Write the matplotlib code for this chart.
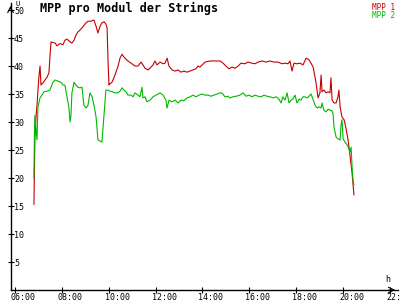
import matplotlib
matplotlib.use("Agg")
import matplotlib.pyplot as plt
import matplotlib.transforms as mtransforms

# ------------------------------
# DATA (hours of day, volts per module)
# ------------------------------
t_mpp1 = [6.81, 6.85, 6.90, 6.94, 6.98, 7.02, 7.07, 7.11, 7.20, 7.28, 7.37, 7.45, 7.49, 7.54,
          7.62, 7.71, 7.79, 7.92, 8.05, 8.13, 8.22, 8.35, 8.43, 8.52, 8.60, 8.69, 8.77, 8.90,
          9.03, 9.12, 9.24, 9.37, 9.46, 9.54, 9.63, 9.71, 9.80, 9.88, 9.93, 9.97, 10.01, 10.05,
          10.14, 10.22, 10.31, 10.40, 10.48, 10.57, 10.65, 10.74, 10.82, 10.95, 11.04, 11.12,
          11.25, 11.38, 11.46, 11.55, 11.68, 11.76, 11.89, 11.97, 12.06, 12.19, 12.32, 12.40,
          12.49, 12.57, 12.70, 12.83, 12.96, 13.08, 13.21, 13.34, 13.47, 13.60, 13.72, 13.81,
          13.89, 14.11, 14.32, 14.53, 14.75, 14.88, 15.00, 15.13, 15.26, 15.39, 15.52, 15.64,
          15.81, 15.94, 16.11, 16.24, 16.37, 16.54, 16.71, 16.88, 17.05, 17.22, 17.39, 17.52,
          17.65, 17.73, 17.82, 17.90, 18.03, 18.16, 18.29, 18.42, 18.54, 18.63, 18.72, 18.84,
          18.93, 19.01, 19.06, 19.10, 19.18, 19.27, 19.36, 19.44, 19.48, 19.53, 19.61, 19.70,
          19.78, 19.82, 19.87, 19.95, 20.04, 20.12, 20.21, 20.29, 20.38, 20.46]
v_mpp1 = [15.3, 27.0, 31.0, 33.0, 35.4, 38.0, 40.0, 36.6, 37.0, 37.5, 38.0, 38.8, 41.5, 44.3,
          44.2, 44.1, 43.6, 44.0, 43.8, 44.6, 44.8, 44.3, 44.1, 44.6, 45.5, 46.1, 46.4, 47.0,
          47.7, 48.0, 48.0, 48.2, 47.1, 45.9, 47.1, 47.7, 47.9, 47.5, 46.8, 41.0, 36.6, 36.8,
          37.1, 37.9, 38.9, 40.0, 41.4, 42.1, 41.6, 41.2, 40.9, 40.5, 40.2, 40.0,
          40.0, 40.7, 40.2, 39.6, 39.3, 39.6, 40.2, 40.9, 40.2, 40.7, 40.4, 40.5,
          41.4, 40.0, 39.3, 39.1, 39.3, 38.9, 39.1, 38.9, 39.1, 39.3, 39.5, 40.0,
          39.8, 40.7, 40.9, 40.9, 40.9, 40.5, 40.0, 39.5, 39.8, 39.6, 40.0, 40.5,
          40.4, 40.7, 40.5, 40.4, 40.7, 40.9, 40.7, 40.9, 40.7, 40.7, 40.4, 40.5,
          40.4, 40.9, 39.1, 40.5, 40.4, 40.5, 40.2, 41.4, 41.1, 40.5, 39.8, 37.1,
          34.3, 35.2, 38.4, 35.4, 35.7, 35.2, 35.4, 35.2, 37.9, 33.9, 33.4, 33.4,
          34.5, 35.7, 32.7, 30.9, 30.4, 28.9, 26.8, 24.1, 20.9, 17.0]

t_mpp2 = [6.81, 6.83, 6.85, 6.90, 6.94, 6.98, 7.02, 7.07, 7.15, 7.24, 7.37, 7.49, 7.62, 7.71,
          7.83, 7.96, 8.05, 8.13, 8.18, 8.26, 8.30, 8.35, 8.39, 8.43, 8.52, 8.60, 8.69, 8.77,
          8.86, 8.90, 8.94, 9.03, 9.11, 9.20, 9.29, 9.37, 9.46, 9.50, 9.54, 9.63, 9.71, 9.75,
          9.80, 9.84, 9.88, 9.97, 10.05, 10.14, 10.27, 10.39, 10.48, 10.57, 10.65, 10.74,
          10.82, 10.95, 11.04, 11.12, 11.25, 11.33, 11.42, 11.46, 11.55, 11.63, 11.76, 11.89,
          12.02, 12.19, 12.32, 12.44, 12.49, 12.57, 12.70, 12.83, 12.96, 13.08, 13.21, 13.34,
          13.47, 13.60, 13.72, 13.85, 13.98, 14.11, 14.24, 14.36, 14.49, 14.62, 14.75, 14.83,
          14.96, 15.09, 15.17, 15.30, 15.43, 15.60, 15.73, 15.86, 15.98, 16.11, 16.24, 16.37,
          16.50, 16.62, 16.75, 16.88, 17.01, 17.14, 17.26, 17.35, 17.43, 17.52, 17.61, 17.69,
          17.78, 17.86, 17.95, 18.03, 18.12, 18.20, 18.29, 18.37, 18.46, 18.54, 18.63, 18.72,
          18.80, 18.89, 18.97, 19.06, 19.10, 19.18, 19.27, 19.36, 19.44, 19.53, 19.57, 19.61,
          19.70, 19.78, 19.87, 19.91, 19.95, 20.00, 20.08, 20.17, 20.25, 20.29, 20.34, 20.38,
          20.42, 20.46]
v_mpp2 = [20.0, 27.7, 31.2, 28.6, 26.8, 32.7, 33.4, 34.3, 34.8, 35.4, 35.5, 35.7, 37.1, 37.5,
          37.3, 37.1, 36.6, 36.6, 35.4, 33.6, 32.7, 30.0, 31.2, 35.2, 37.1, 36.6, 36.2, 36.1,
          36.2, 34.5, 33.0, 32.5, 32.9, 35.2, 34.5, 33.0, 30.9, 28.9, 26.8, 26.6, 26.4, 28.6,
          31.2, 33.4, 35.7, 35.7, 35.5, 35.4, 35.2, 35.2, 35.5, 36.1, 35.7, 35.4,
          34.8, 34.8, 34.5, 35.2, 34.8, 34.5, 36.2, 34.3, 34.5, 33.6, 33.9, 34.5,
          34.8, 35.2, 34.8, 33.9, 32.5, 33.9, 33.6, 33.9, 33.4, 33.9, 33.8, 34.3,
          34.5, 34.8, 34.5, 34.8, 35.0, 34.8, 34.8, 34.6, 34.8, 35.0, 35.2, 35.2,
          34.5, 34.6, 34.3, 34.5, 34.6, 34.8, 35.2, 34.6, 34.8, 34.5, 34.8, 34.6,
          34.5, 34.8, 34.6, 34.5, 34.3, 34.5, 34.1, 33.4, 34.5, 33.9, 35.2, 33.4,
          33.9, 34.1, 34.8, 33.4, 34.1, 33.9, 34.5, 34.5, 34.3, 34.6, 35.0, 34.0,
          33.0, 32.5, 32.7, 32.5, 33.4, 32.1, 31.8, 32.3, 32.1, 32.0, 31.4, 29.1,
          27.3, 27.0, 26.8, 29.5, 30.4, 27.0, 26.4, 25.9, 25.2, 24.6, 25.5, 22.0,
          19.6, 18.8]

x_ticks = [6, 8, 10, 12, 14, 16, 18, 20, 22]
x_labels = ["06:00", "08:00", "10:00", "12:00", "14:00", "16:00", "18:00", "20:00", "22:00"]
y_ticks = [5, 10, 15, 20, 25, 30, 35, 40, 45, 50]

# ------------------------------
# FIGURE
# ------------------------------
mono = "DejaVu Sans Mono"
fig = plt.figure(figsize=(4, 3), dpi=100)
ax = fig.add_axes([10.5 / 400, 10 / 300, 387.5 / 400, 287 / 300])
ax.set_xlim(5.81, 22.34)
ax.set_ylim(0, 51.25)

ax.plot(t_mpp1, v_mpp1, color="#c40000", lw=0.8)
ax.plot(t_mpp2, v_mpp2, color="#00b800", lw=0.8)

for side in ["top", "right"]:
    ax.spines[side].set_visible(False)
for side in ["left", "bottom"]:
    ax.spines[side].set_linewidth(1.0)

# axis arrows
ax.annotate("", xy=(1.0, 0), xytext=(0.97, 0), xycoords="axes fraction",
            arrowprops=dict(arrowstyle="->", lw=0.8, color="black"), annotation_clip=False)
ax.annotate("", xy=(0, 1.0), xytext=(0, 0.97), xycoords="axes fraction",
            arrowprops=dict(arrowstyle="->", lw=0.8, color="black"), annotation_clip=False)

ax.set_xticks(x_ticks)
ax.set_xticklabels(x_labels, fontfamily=mono, fontsize=6)
ax.set_yticks(y_ticks)
ax.set_yticklabels([str(v) for v in y_ticks], fontfamily=mono, fontsize=6)
ax.tick_params(direction="inout", length=4.5, width=0.8, pad=0)

dx = mtransforms.ScaledTranslation(-0.04, 0, fig.dpi_scale_trans)
for lab in ax.get_xticklabels():
    lab.set_horizontalalignment("left")
    lab.set_transform(lab.get_transform() + dx)
dy = mtransforms.ScaledTranslation(0.066, 0, fig.dpi_scale_trans)
for lab in ax.get_yticklabels():
    lab.set_horizontalalignment("left")
    lab.set_transform(lab.get_transform() + dy)

fig.text(40 / 400, 1 - 2 / 300, "MPP pro Modul der Strings", fontfamily=mono,
         fontsize=8.5, fontweight="bold", ha="left", va="top")
fig.text(395 / 400, 1 - 10 / 300, "MPP 1", color="#c40000", fontfamily=mono,
         fontsize=5.5, ha="right", va="baseline")
fig.text(395 / 400, 1 - 17.5 / 300, "MPP 2", color="#00b800", fontfamily=mono,
         fontsize=5.5, ha="right", va="baseline")
fig.text(15 / 400, 1 - 1 / 300, "U", fontfamily=mono, fontsize=5, ha="left", va="top")
fig.text(385 / 400, 1 - 275 / 300, "h", fontfamily=mono, fontsize=6, ha="left", va="top")

fig.savefig("out.png", dpi=100, facecolor="white")
